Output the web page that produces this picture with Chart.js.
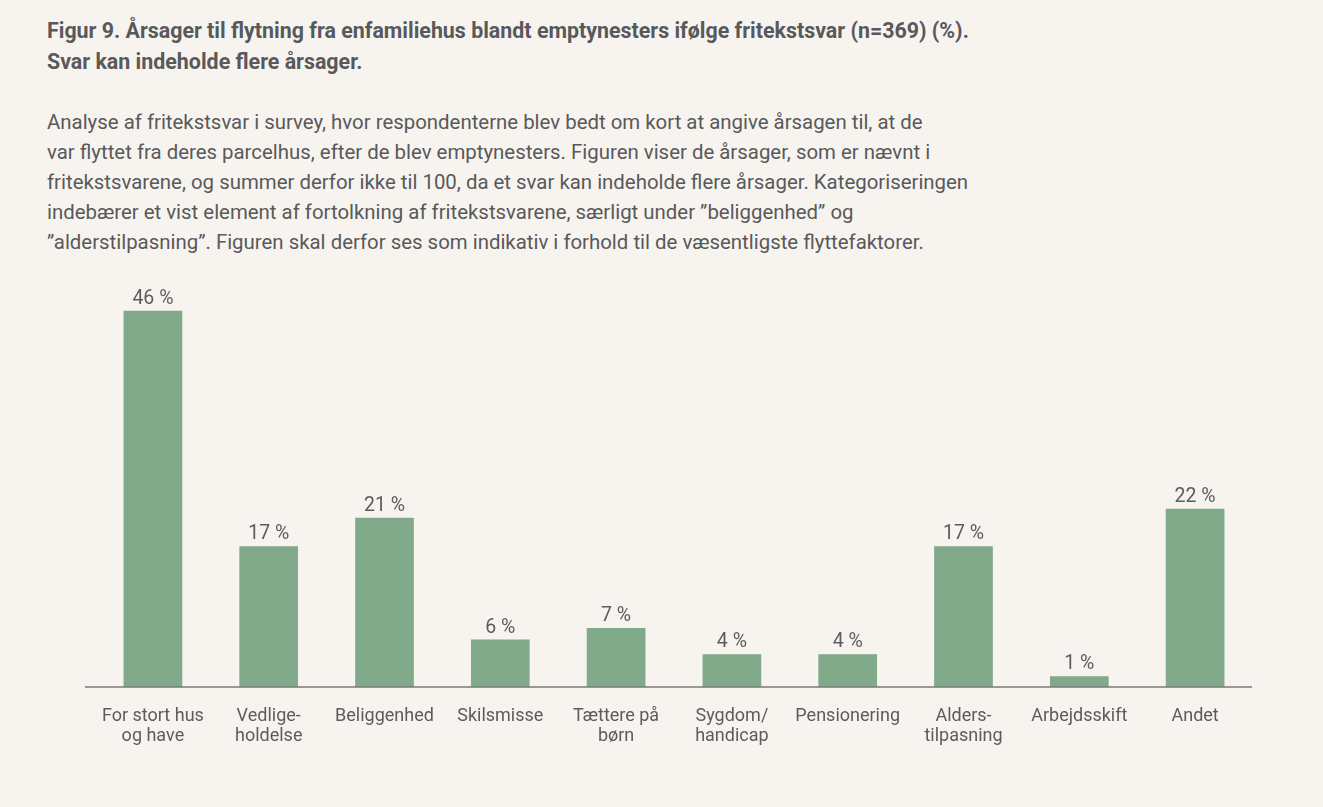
<!DOCTYPE html>
<html>
<head>
<meta charset="utf-8">
<script src="https://cdn.jsdelivr.net/npm/chart.js@4"></script>
<style>
  html, body { margin:0; padding:0; background:#f7f4ef; }
  body { width:1323px; height:807px; position:relative; overflow:hidden; font-family:Roboto, sans-serif; color:#58595b; }
  #title { position:absolute; left:47px; top:14.5px; font-size:21.4px; line-height:31px; font-weight:700; white-space:nowrap; color:#58595b; }
  #desc { position:absolute; left:47px; top:107px; font-size:20.4px; line-height:30px; white-space:nowrap; color:#58595b; }
  #wrap { position:absolute; left:0; top:0; width:1323px; height:807px; }
</style>
</head>
<body>
<div id="title">Figur 9. Årsager til flytning fra enfamiliehus blandt emptynesters ifølge fritekstsvar (n=369) (%).<br>Svar kan indeholde flere årsager.</div>
<div id="desc">Analyse af fritekstsvar i survey, hvor respondenterne blev bedt om kort at angive årsagen til, at de<br>var flyttet fra deres parcelhus, efter de blev emptynesters. Figuren viser de årsager, som er nævnt i<br>fritekstsvarene, og summer derfor ikke til 100, da et svar kan indeholde flere årsager. Kategoriseringen<br>indebærer et vist element af fortolkning af fritekstsvarene, særligt under ”beliggenhed” og<br>”alderstilpasning”. Figuren skal derfor ses som indikativ i forhold til de væsentligste flyttefaktorer.</div>
<div id="wrap"><canvas id="c" width="1323" height="807"></canvas></div>
<script>
const categories = [
  ['For stort hus', 'og have'],
  ['Vedlige-', 'holdelse'],
  'Beliggenhed',
  'Skilsmisse',
  ['Tættere på', 'børn'],
  ['Sygdom/', 'handicap'],
  'Pensionering',
  ['Alders-', 'tilpasning'],
  'Arbejdsskift',
  'Andet'
];
const values = [46.0, 17.2, 20.7, 5.8, 7.2, 4.0, 4.0, 17.2, 1.3, 21.8];
const valueLabels = ['46 %', '17 %', '21 %', '6 %', '7 %', '4 %', '4 %', '17 %', '1 %', '22 %'];

const textColor = '#5b5c5e';
const barColor = '#80aa8a';

const valueLabelPlugin = {
  id: 'valueLabels',
  afterDatasetsDraw(chart) {
    const ctx = chart.ctx;
    const meta = chart.getDatasetMeta(0);
    ctx.save();
    ctx.font = '19.5px Roboto, sans-serif';
    ctx.fillStyle = textColor;
    ctx.textAlign = 'center';
    ctx.textBaseline = 'alphabetic';
    meta.data.forEach((bar, i) => {
      ctx.fillText(valueLabels[i], bar.x, bar.y - 7);
    });
    ctx.restore();
  }
};

const baselinePlugin = {
  id: 'baseline',
  afterDatasetsDraw(chart) {
    const ctx = chart.ctx;
    const y = chart.scales.y.getPixelForValue(0);
    ctx.save();
    ctx.strokeStyle = '#7a7a7a';
    ctx.lineWidth = 1.5;
    ctx.beginPath();
    ctx.moveTo(chart.chartArea.left - 10, y);
    ctx.lineTo(chart.chartArea.right - 1, y);
    ctx.stroke();
    ctx.restore();
  }
};

new Chart(document.getElementById('c'), {
  type: 'bar',
  data: {
    labels: categories,
    datasets: [{
      data: values,
      backgroundColor: barColor,
      borderWidth: 0,
      categoryPercentage: 1.0,
      barPercentage: 0.507
    }]
  },
  options: {
    responsive: false,
    animation: false,
    devicePixelRatio: 1,
    layout: { padding: { left: 95, right: 70, top: 278, bottom: 0 } },
    plugins: { legend: { display: false }, tooltip: { enabled: false } },
    scales: {
      y: { display: false, min: 0, max: 50 },
      x: {
        grid: { display: false, drawTicks: false },
        border: { display: false },
        ticks: {
          color: textColor,
          font: { family: 'Roboto, sans-serif', size: 18, lineHeight: 20/18 },
          padding: 19,
          maxRotation: 0,
          autoSkip: false
        },
        afterFit(scale) { scale.height = 120; }
      }
    }
  },
  plugins: [valueLabelPlugin, baselinePlugin]
});
</script>
</body>
</html>
